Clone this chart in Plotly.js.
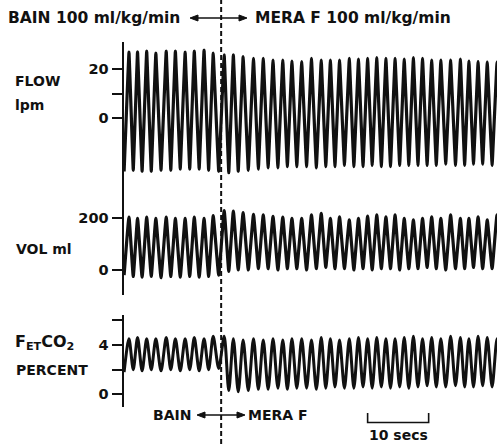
<!DOCTYPE html>
<html>
<head>
<meta charset="utf-8">
<script src="https://cdn.plot.ly/plotly-3.0.1.min.js"></script>
<style>html,body{margin:0;padding:0;background:#fff;}#chart{width:497px;height:444px;}</style>
</head>
<body>
<div id="chart"></div>
<script>
// ---- data read from the recording (time in seconds from the start of the trace) ----
const switchTime = 16.0;            // BAIN -> MERA F changeover (dashed line)
const scaleBar = [40, 50];          // "10 secs" bracket
const breathPeakT = [0.9, 2.3, 3.8, 5.3, 7.0, 8.5, 10.1, 11.6, 13.2, 14.7, 16.5, 18.0, 19.6, 21.3, 22.9, 24.5, 26.1, 27.6, 29.2, 30.8,
  32.4, 33.9, 35.4, 37.0, 38.5, 40.0, 41.5, 43.0, 44.5, 46.0, 47.5, 49.0, 50.5, 52.0, 53.6, 55.2, 56.6, 58.1, 59.6, 61.2];
const breathTroughT = [0.1, 1.6, 3.05, 4.55, 6.15, 7.75, 9.3, 10.85, 12.4, 13.95, 15.6, 17.25, 18.8, 20.45, 22.1, 23.7, 25.3, 26.85, 28.4, 30.0,
  31.6, 33.15, 34.65, 36.2, 37.75, 39.25, 40.75, 42.25, 43.75, 45.25, 46.75, 48.25, 49.75, 51.25, 52.8, 54.4, 55.9, 57.35, 58.85, 60.4, 61.9];

// FLOW lpm
const flowPeak = [27.0, 27.2, 27.5, 26.6, 27.5, 27.5, 27.0, 27.5, 27.9, 26.6, 25.9, 25.9, 25.2, 24.5, 24.5, 23.8, 23.8, 23.4, 23.1, 24.5,
  23.8, 23.8, 23.8, 24.5, 24.2, 24.5, 24.8, 24.5, 24.5, 24.2, 24.8, 24.5, 23.8, 23.8, 23.8, 24.2, 23.4, 23.1, 22.9, 22.9];
const flowTrough = [-22, -21.5, -22, -22, -21.5, -21.5, -21, -21, -21, -21.5, -22, -22.5, -22, -21.5, -21, -20.5, -20.5, -20, -20, -20,
  -20.5, -20, -20, -19.5, -20, -20, -19.5, -20, -20, -19.5, -19.5, -19.5, -19.5, -19.5, -19, -19.5, -19.5, -19, -19, -19.5, -19];

// VOL ml
const volPeak = [205, 200, 205, 200, 205, 200, 200, 205, 200, 210, 230, 228, 222, 215, 213, 208, 205, 200, 200, 213,
  219, 200, 206, 194, 200, 209, 213, 206, 213, 200, 194, 200, 206, 200, 213, 200, 200, 206, 194, 213];
const volTrough = [-20, -25, -28, -25, -30, -25, -28, -25, -28, -25, -20, -5, 0, 0, 5, 5, 0, 5, 5, 0,
  5, 10, 5, 5, 0, 5, 0, 5, 5, 0, 5, 5, 10, 5, 0, 5, 5, 10, 5, 5, 10];

// FetCO2 percent
const co2Peak = [4.5, 4.6, 4.5, 4.5, 4.6, 4.5, 4.5, 4.6, 4.5, 4.7, 4.7, 4.5, 4.4, 4.5, 4.4, 4.5, 4.4, 4.5, 4.5, 4.4,
  4.6, 4.5, 4.4, 4.5, 4.6, 4.5, 4.6, 4.5, 4.5, 4.6, 4.7, 4.5, 4.6, 4.5, 4.7, 4.6, 4.5, 4.7, 4.6, 4.5];
const co2Trough = [1.8, 2.0, 1.9, 2.0, 1.9, 2.0, 1.9, 2.0, 1.9, 2.0, 2.1, 0.3, 0.2, 0.3, 0.4, 0.4, 0.5, 0.4, 0.5, 0.5,
  0.4, 0.5, 0.6, 0.5, 0.5, 0.6, 0.5, 0.6, 0.5, 0.6, 0.5, 0.6, 0.7, 0.6, 0.6, 0.7, 0.6, 0.6, 0.7, 0.6, 0.7];

// tick positions and their labels (unlabelled ticks carry an empty label)
const flowTicks = [0, 10, 20], flowTickText = ["0", "", "20"];
const volTicks = [0, 200], volTickText = ["0", "200"];
const co2Ticks = [0, 2, 4, 6], co2TickText = ["0", "", "4", ""];

// ---- build waveforms: trough, peak, trough, ... ----
function wave(peaks, troughs) {
  const x = [], y = [];
  for (let i = 0; i < troughs.length; i++) {
    x.push(breathTroughT[i]); y.push(troughs[i]);
    if (i < peaks.length) { x.push(breathPeakT[i]); y.push(peaks[i]); }
  }
  return {x, y};
}
const INK = '#111';
const f = wave(flowPeak, flowTrough), v = wave(volPeak, volTrough), c = wave(co2Peak, co2Trough);
const traces = [
  {x: f.x, y: f.y, yaxis: 'y', mode: 'lines', line: {color: INK, width: 3.2, shape: 'spline', smoothing: 0.15}, hoverinfo: 'skip'},
  {x: v.x, y: v.y, yaxis: 'y2', mode: 'lines', line: {color: INK, width: 3.2, shape: 'spline', smoothing: 0.35}, hoverinfo: 'skip'},
  {x: c.x, y: c.y, yaxis: 'y3', mode: 'lines', line: {color: INK, width: 3, shape: 'spline', smoothing: 0.8}, hoverinfo: 'skip'}
];

const W = 497, H = 444;
const px = p => p / W, py = p => 1 - p / H;
const FONT = 'DejaVu Sans, sans-serif';
const tickFont = {family: FONT, size: 14.5, color: INK, weight: 'bold'};
function yax(dom, range, tv, tt) {
  return {domain: dom, range: range, tickmode: 'array', tickvals: tv, ticktext: tt, ticks: 'outside', ticklen: 10, tickwidth: 2, tickcolor: INK,
    showline: true, linewidth: 2, linecolor: INK, showgrid: false, zeroline: false, tickfont: tickFont, anchor: 'x', fixedrange: true};
}
function lab(text, x, y, size, xanchor) {
  return {text: text, x: px(x), y: py(y), xref: 'paper', yref: 'paper', xanchor: xanchor || 'left', yanchor: 'middle',
    showarrow: false, font: {family: FONT, size: size || 14, color: INK, weight: 'bold'}};
}
// double-headed arrow drawn as a line with two filled heads (paper coordinates)
function dblArrow(x0, x1, y) {
  const L = 8, Hh = 3;
  const line = {type: 'line', xref: 'paper', yref: 'paper', x0: px(x0 + 2), x1: px(x1 - 2), y0: py(y), y1: py(y),
    line: {color: INK, width: 1.6}};
  const headL = {type: 'path', xref: 'paper', yref: 'paper', fillcolor: INK, line: {color: INK, width: 1},
    path: `M ${px(x0)} ${py(y)} L ${px(x0 + L)} ${py(y - Hh)} L ${px(x0 + L)} ${py(y + Hh)} Z`};
  const headR = {type: 'path', xref: 'paper', yref: 'paper', fillcolor: INK, line: {color: INK, width: 1},
    path: `M ${px(x1)} ${py(y)} L ${px(x1 - L)} ${py(y - Hh)} L ${px(x1 - L)} ${py(y + Hh)} Z`};
  return [line, headL, headR];
}

const layout = {
  width: W, height: H, margin: {l: 0, r: 0, t: 0, b: 0}, paper_bgcolor: '#fff', plot_bgcolor: '#fff', showlegend: false,
  xaxis: {domain: [px(123.5), 1], range: [0, 61.2], visible: false, fixedrange: true},
  yaxis: yax([py(190), py(42)], [-29.6, 31.2], flowTicks, flowTickText),
  yaxis2: yax([py(295), py(190)], [-96.7, 309.5], volTicks, volTickText),
  yaxis3: yax([py(407), py(315)], [-1.03, 6.43], co2Ticks, co2TickText),
  shapes: [
    {type: 'line', xref: 'x', yref: 'paper', x0: switchTime, x1: switchTime, y0: 0, y1: 1,
      line: {color: INK, width: 2, dash: '5px,3px'}},
    {type: 'path', xref: 'x', yref: 'paper',
      path: `M ${scaleBar[0]} ${py(413)} L ${scaleBar[0]} ${py(422.5)} L ${scaleBar[1]} ${py(422.5)} L ${scaleBar[1]} ${py(413)}`,
      line: {color: INK, width: 1.6}},
    ...dblArrow(190, 247, 18),
    ...dblArrow(197, 245, 415)
  ],
  annotations: [
    lab('BAIN 100 ml/kg/min', 6, 18, 15.5),
    lab('MERA F 100 ml/kg/min', 253, 18, 15.5),
    lab('FLOW', 13, 81),
    lab('lpm', 13, 105),
    lab('VOL ml', 14, 249),
    lab('F<sub>ET</sub>CO<sub>2</sub>', 13, 342, 16),
    lab('PERCENT', 14, 370),
    lab('BAIN', 151, 415),
    lab('MERA F', 246, 415),
    lab('10 secs', 398, 435, 14, 'center')
  ]
};
Plotly.newPlot('chart', traces, layout, {staticPlot: true, displayModeBar: false});
</script>
</body>
</html>
